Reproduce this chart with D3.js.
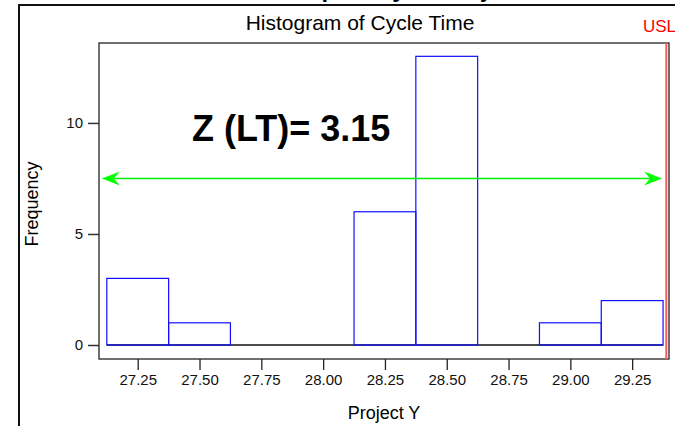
<!DOCTYPE html>
<html>
<head>
<meta charset="utf-8">
<script src="https://cdn.jsdelivr.net/npm/d3@7"></script>
<style>
  body { margin: 0; background: #fff; }
  svg { display: block; font-family: "Liberation Sans", Arial, sans-serif; }
</style>
</head>
<body>
<div id="chart"></div>
<script>
// histogram bins (centre of each 0.25 wide bin) and their counts
var binCenters = [27.25, 27.50, 27.75, 28.00, 28.25, 28.50, 28.75, 29.00, 29.25];
var counts = [3, 1, 0, 0, 6, 13, 0, 1, 2];
var binWidth = 0.25;

var xTicks = [27.25, 27.50, 27.75, 28.00, 28.25, 28.50, 28.75, 29.00, 29.25];
var yTicks = [0, 5, 10];

var usl = 29.388;
var zLabel = "Z (LT)= 3.15";
var arrowLevel = 7.5;
var arrowSpan = [27.105, 29.371];

var width = 675,
    height = 426;

var svg = d3.select("#chart").append("svg")
    .attr("width", width)
    .attr("height", height);

var x = d3.scaleLinear()
    .domain([27.0934, 29.399])
    .range([99, 669]);

var y = d3.scaleLinear()
    .domain([-0.63, 13.6])
    .range([359, 43]);

// cropped heading above the panel
svg.append("text")
    .attr("x", 418)
    .attr("y", -3)
    .attr("text-anchor", "middle")
    .style("font-size", "24px")
    .style("font-weight", "bold")
    .text("Capability of Project Y");

// outer panel border (left + top)
svg.append("path")
    .attr("d", "M19," + height + "V5H" + width)
    .attr("fill", "none")
    .attr("stroke", "#111")
    .attr("stroke-width", 2);

svg.append("text")
    .attr("x", 360)
    .attr("y", 30)
    .attr("text-anchor", "middle")
    .style("font-size", "21px")
    .text("Histogram of Cycle Time");

svg.append("text")
    .attr("x", 643)
    .attr("y", 32)
    .attr("fill", "#ff0000")
    .style("font-size", "17px")
    .text("USL");

// plot frame
svg.append("rect")
    .attr("x", x.range()[0])
    .attr("y", y.range()[1])
    .attr("width", x.range()[1] - x.range()[0])
    .attr("height", y.range()[0] - y.range()[1])
    .attr("fill", "none")
    .attr("stroke", "#222")
    .attr("stroke-width", 1.3);

// axes
var xAxis = d3.axisBottom(x)
    .tickValues(xTicks)
    .tickFormat(d3.format(".2f"))
    .tickSize(11)
    .tickSizeOuter(0)
    .tickPadding(4);

var gx = svg.append("g")
    .attr("transform", "translate(0," + y.range()[0] + ")")
    .call(xAxis);
gx.select(".domain").remove();
gx.selectAll("text").style("font-size", "15px").attr("fill", "#111")
    .attr("font-family", null);
gx.selectAll("line").attr("stroke", "#222").attr("stroke-width", 1.3);

var yAxis = d3.axisLeft(y)
    .tickValues(yTicks)
    .tickSize(11)
    .tickSizeOuter(0)
    .tickPadding(5);

var gy = svg.append("g")
    .attr("transform", "translate(" + x.range()[0] + ",0)")
    .call(yAxis);
gy.select(".domain").remove();
gy.selectAll("text").style("font-size", "15px").attr("fill", "#111")
    .attr("font-family", null);
gy.selectAll("line").attr("stroke", "#333").attr("stroke-width", 1.5);

svg.append("text")
    .attr("transform", "translate(38,204) rotate(-90)")
    .attr("text-anchor", "middle")
    .style("font-size", "18px")
    .text("Frequency");

svg.append("text")
    .attr("x", 384)
    .attr("y", 419)
    .attr("text-anchor", "middle")
    .style("font-size", "18px")
    .text("Project Y");

// baseline at zero across the bins
svg.append("line")
    .attr("x1", x(binCenters[0] - binWidth / 2))
    .attr("x2", x(binCenters[binCenters.length - 1] + binWidth / 2))
    .attr("y1", y(0))
    .attr("y2", y(0))
    .attr("stroke", "#111")
    .attr("stroke-width", 1.3);

// bars
svg.append("g").selectAll("rect")
    .data(binCenters.map(function(c, i) { return {c: c, n: counts[i]}; })
        .filter(function(d) { return d.n > 0; }))
    .enter().append("rect")
    .attr("x", function(d) { return x(d.c - binWidth / 2); })
    .attr("y", function(d) { return y(d.n); })
    .attr("width", function(d) { return x(d.c + binWidth / 2) - x(d.c - binWidth / 2); })
    .attr("height", function(d) { return y(0) - y(d.n); })
    .attr("fill", "none")
    .attr("stroke", "#1010ff")
    .attr("stroke-width", 1.2);

// USL line
svg.append("line")
    .attr("x1", x(usl))
    .attr("x2", x(usl))
    .attr("y1", y.range()[1])
    .attr("y2", y.range()[0])
    .attr("stroke", "#ff5a5a")
    .attr("stroke-width", 2);

// green double arrow
var ay = y(arrowLevel),
    ax0 = x(arrowSpan[0]),
    ax1 = x(arrowSpan[1]);

svg.append("line")
    .attr("x1", ax0 + 6)
    .attr("x2", ax1 - 6)
    .attr("y1", ay)
    .attr("y2", ay)
    .attr("stroke", "#00ee00")
    .attr("stroke-width", 1.6);

function head(tip, dir) {
    // concave arrowhead pointing in dir (-1 left, +1 right)
    return "M" + tip + "," + ay +
        "L" + (tip - dir * 18) + "," + (ay - 7) +
        "L" + (tip - dir * 12) + "," + ay +
        "L" + (tip - dir * 18) + "," + (ay + 7) + "Z";
}
svg.append("path").attr("d", head(ax0, -1)).attr("fill", "#00ff00");
svg.append("path").attr("d", head(ax1, 1)).attr("fill", "#00ff00");

svg.append("text")
    .attr("x", 192)
    .attr("y", 141)
    .style("font-size", "36px")
    .style("font-weight", "bold")
    .text(zLabel);
</script>
</body>
</html>
